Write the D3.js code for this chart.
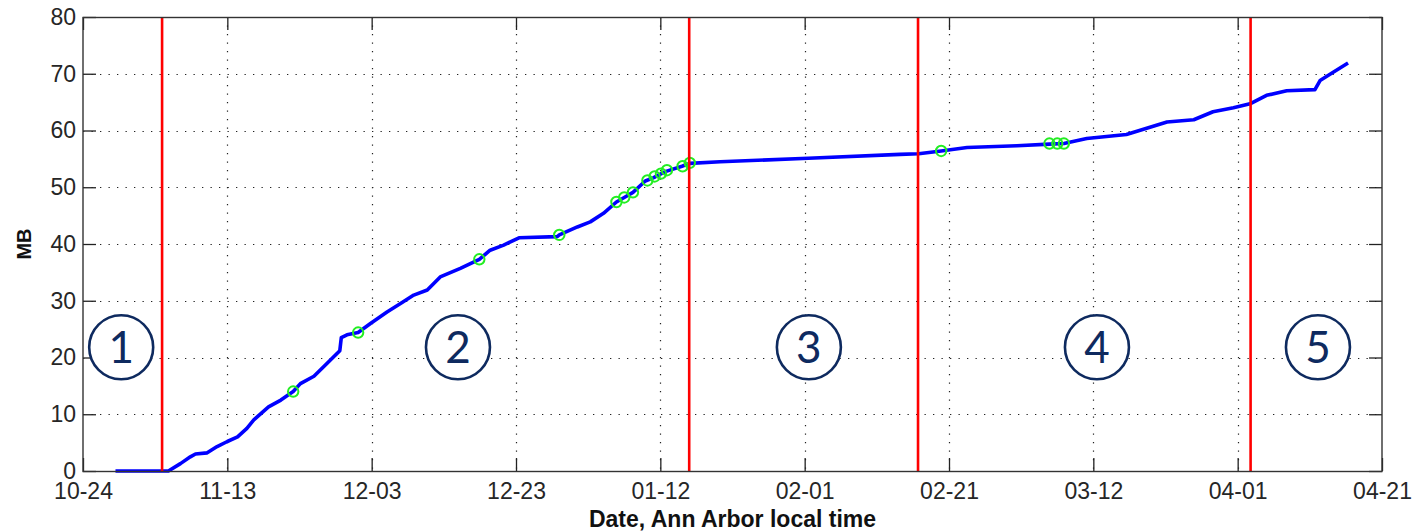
<!DOCTYPE html>
<html>
<head>
<meta charset="utf-8">
<script src="https://cdn.jsdelivr.net/npm/d3@7"></script>
<style>
  html, body { margin: 0; padding: 0; background: #fff; }
  svg { display: block; }
</style>
</head>
<body>
<svg id="chart" width="1416" height="531"></svg>
<script>
// Cumulative data volume (MB) over time
const usageTimes = [
  "2011-10-28 12:00", "2011-11-04 20:00", "2011-11-06 12:00", "2011-11-07 21:00",
  "2011-11-08 14:00", "2011-11-10 05:00", "2011-11-11 14:00", "2011-11-13 00:00",
  "2011-11-14 10:00", "2011-11-15 17:00", "2011-11-16 16:00", "2011-11-18 17:00",
  "2011-11-20 10:00", "2011-11-22 03:00", "2011-11-23 03:00", "2011-11-25 00:00",
  "2011-11-26 20:00", "2011-11-28 14:00", "2011-11-28 19:00", "2011-11-29 14:00",
  "2011-12-01 03:00", "2011-12-02 20:00", "2011-12-05 03:00", "2011-12-07 00:00",
  "2011-12-08 20:00", "2011-12-10 17:00", "2011-12-12 12:00", "2011-12-15 07:00",
  "2011-12-17 22:00", "2011-12-19 10:00", "2011-12-21 07:00", "2011-12-23 10:00",
  "2011-12-28 17:00", "2011-12-29 00:00", "2011-12-31 12:00", "2012-01-02 07:00",
  "2012-01-04 03:00", "2012-01-05 22:00", "2012-01-07 00:00", "2012-01-08 05:00",
  "2012-01-09 22:00", "2012-01-11 02:00", "2012-01-12 00:00", "2012-01-12 19:00",
  "2012-01-15 00:00", "2012-01-16 02:00", "2012-01-20 07:00", "2012-02-01 12:00",
  "2012-02-14 05:00", "2012-02-16 19:00", "2012-02-19 22:00", "2012-02-23 12:00",
  "2012-03-01 10:00", "2012-03-05 22:00", "2012-03-07 22:00", "2012-03-11 02:00",
  "2012-03-16 14:00", "2012-03-22 05:00", "2012-03-25 22:00", "2012-03-28 14:00",
  "2012-03-31 10:00", "2012-04-02 17:00", "2012-04-05 00:00", "2012-04-07 19:00",
  "2012-04-11 17:00", "2012-04-12 10:00", "2012-04-14 07:00", "2012-04-16 07:00"
];
const usageMB = [
  0, 0, 1.3, 2.5,
  3.0, 3.2, 4.3, 5.2,
  6.0, 7.5, 9.0, 11.3,
  12.5, 14.0, 15.4, 16.7,
  19.0, 21.2, 23.5, 24.0,
  24.4, 26.0, 28.0, 29.5,
  31.0, 31.9, 34.2, 35.7,
  37.3, 38.9, 39.8, 41.1,
  41.3, 41.6, 43.0, 43.9,
  45.4, 47.4, 48.2, 49.1,
  51.1, 51.7, 52.3, 52.8,
  53.7, 54.2, 54.5, 55.1,
  55.8, 55.9, 56.4, 57.0,
  57.3, 57.6, 57.7, 58.6,
  59.3, 61.5, 61.9, 63.3,
  64.0, 64.7, 66.2, 67.0,
  67.2, 68.8, 70.3, 71.9
];

// Marked events (green circles)
const eventTimes = [
  "2011-11-22 03:00", "2011-12-01 03:00", "2011-12-17 22:00", "2011-12-29 00:00",
  "2012-01-05 22:00", "2012-01-07 00:00", "2012-01-08 05:00", "2012-01-10 05:00",
  "2012-01-11 05:00", "2012-01-12 02:00", "2012-01-12 22:00", "2012-01-15 02:00",
  "2012-01-16 02:00", "2012-02-19 22:00", "2012-03-05 22:00", "2012-03-07 00:00",
  "2012-03-07 22:00"
];
const eventMB = [
  14.0, 24.4, 37.3, 41.6,
  47.4, 48.2, 49.1, 51.2,
  51.9, 52.4, 53.0, 53.7,
  54.3, 56.4, 57.7, 57.7,
  57.7
];

// Phase boundaries (red lines)
const boundaryTimes = ["2011-11-03 23:00", "2012-01-16 00:00", "2012-02-16 17:00", "2012-04-02 19:00"];

// Phase labels
const phaseLabels = ["1", "2", "3", "4", "5"];
const phaseTimes = ["2011-10-29 07:00", "2011-12-14 23:00", "2012-02-01 14:00", "2012-03-12 12:00", "2012-04-12 03:00"];
const phaseMB = 21.8;

// Axes
const xTickTimes = ["2011-10-24", "2011-11-13", "2011-12-03", "2011-12-23", "2012-01-12",
                    "2012-02-01", "2012-02-21", "2012-03-12", "2012-04-01", "2012-04-21"];
const yTicks = [0, 10, 20, 30, 40, 50, 60, 70, 80];

const parse = d3.timeParse("%Y-%m-%d %H:%M");
const parseDay = d3.timeParse("%Y-%m-%d");

const svg = d3.select("#chart");
const margin = { left: 83, right: 34, top: 17, bottom: 60 };
const W = 1416, H = 531;
const x0 = margin.left, x1 = W - margin.right, y0 = H - margin.bottom, y1 = margin.top;

const x = d3.scaleTime()
  .domain([parseDay(xTickTimes[0]), parseDay(xTickTimes[xTickTimes.length - 1])])
  .range([x0, x1]);
const y = d3.scaleLinear().domain([0, 80]).range([y0, y1]);

const tickFont = "'Liberation Sans', Arial, sans-serif";
const tickLen = 13;

// Dotted grid
const grid = svg.append("g").attr("stroke", "#222").attr("stroke-width", 1.2)
  .attr("stroke-dasharray", "1.3,7.2");
xTickTimes.slice(1, -1).forEach(t => {
  const px = Math.round(x(parseDay(t))) + 0.5;
  grid.append("line").attr("x1", px).attr("x2", px).attr("y1", y1).attr("y2", y0);
});
yTicks.slice(1, -1).forEach(v => {
  const py = Math.round(y(v)) + 0.5;
  grid.append("line").attr("x1", x0).attr("x2", x1).attr("y1", py).attr("y2", py);
});

// Axes with inward ticks on all four sides
const axisStyle = g => {
  g.selectAll(".domain").remove();
  g.selectAll(".tick line").attr("stroke", "#222").attr("stroke-width", 1.3);
  g.selectAll(".tick text").attr("fill", "#262626")
    .style("font-family", tickFont).style("font-size", "23px");
};
const xTickDates = xTickTimes.map(parseDay);
svg.append("g").attr("transform", `translate(0,${y0})`)
  .call(d3.axisBottom(x).tickValues(xTickDates).tickFormat(d3.timeFormat("%m-%d"))
    .tickSizeInner(-tickLen).tickSizeOuter(0).tickPadding(12))
  .call(axisStyle);
svg.append("g").attr("transform", `translate(0,${y1})`)
  .call(d3.axisTop(x).tickValues(xTickDates).tickFormat("").tickSizeInner(-tickLen).tickSizeOuter(0))
  .call(axisStyle);
svg.append("g").attr("transform", `translate(${x0},0)`)
  .call(d3.axisLeft(y).tickValues(yTicks).tickSizeInner(-tickLen).tickSizeOuter(0).tickPadding(7))
  .call(axisStyle);
svg.append("g").attr("transform", `translate(${x1},0)`)
  .call(d3.axisRight(y).tickValues(yTicks).tickFormat("").tickSizeInner(-tickLen).tickSizeOuter(0))
  .call(axisStyle);

// Usage curve
const usage = usageTimes.map((t, i) => ({ t: parse(t), v: usageMB[i] }));
svg.append("path").datum(usage)
  .attr("fill", "none").attr("stroke", "#0000ff").attr("stroke-width", 3.6)
  .attr("stroke-linejoin", "round")
  .attr("d", d3.line().x(d => x(d.t)).y(d => y(d.v)));

// Event markers
const events = eventTimes.map((t, i) => ({ t: parse(t), v: eventMB[i] }));
svg.append("g").selectAll("circle").data(events).join("circle")
  .attr("cx", d => x(d.t)).attr("cy", d => y(d.v)).attr("r", 5.2)
  .attr("fill", "none").attr("stroke", "#22ee22").attr("stroke-width", 2);

// Phase boundaries
svg.append("g").selectAll("line").data(boundaryTimes.map(parse)).join("line")
  .attr("x1", d => x(d)).attr("x2", d => x(d)).attr("y1", y1).attr("y2", y0)
  .attr("stroke", "#ff0000").attr("stroke-width", 2.6);

// Frame
svg.append("rect").attr("x", x0).attr("y", y1 + 0.5).attr("width", x1 - x0).attr("height", y0 - y1)
  .attr("fill", "none").attr("stroke", "#333").attr("stroke-width", 1.4);

// Phase labels
const phases = svg.append("g").selectAll("g").data(phaseLabels).join("g")
  .attr("transform", (d, i) => `translate(${x(parse(phaseTimes[i]))},${y(phaseMB)})`);
phases.append("circle").attr("r", 32)
  .attr("fill", "#fff").attr("stroke", "#0e2a5f").attr("stroke-width", 2.6);
phases.append("text").text(d => d)
  .attr("text-anchor", "middle").attr("dy", "0.36em")
  .attr("fill", "#0e2a5f")
  .style("font-family", "Lato, 'Open Sans', sans-serif").style("font-size", "44px");

// Axis titles
svg.append("text").text("Date, Ann Arbor local time")
  .attr("x", (x0 + x1) / 2).attr("y", 527).attr("text-anchor", "middle")
  .attr("fill", "#111").style("font-family", tickFont).style("font-weight", "bold").style("font-size", "23px");
svg.append("text").text("MB")
  .attr("transform", `translate(31,${(y0 + y1) / 2}) rotate(-90)`).attr("text-anchor", "middle")
  .attr("fill", "#111").style("font-family", tickFont).style("font-weight", "bold").style("font-size", "20px");
</script>
</body>
</html>
